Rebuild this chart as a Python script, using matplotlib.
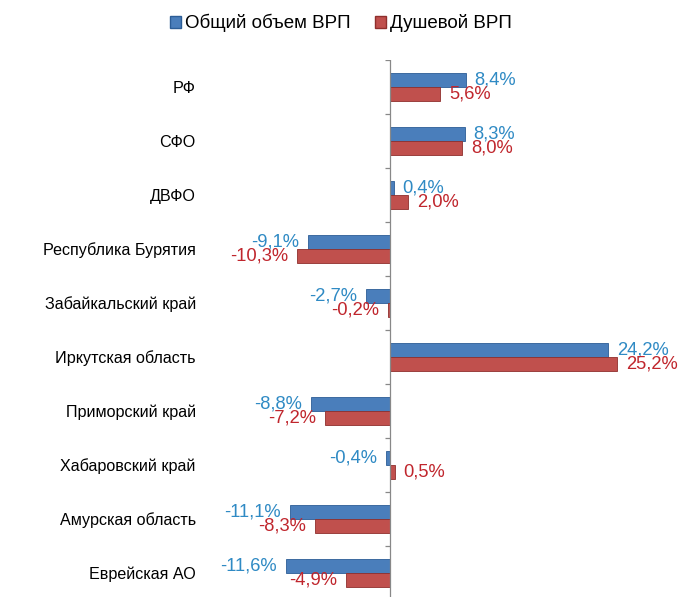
"""Horizontal bar chart: GRP growth by region, total vs per capita."""
import numpy as np
from matplotlib import pyplot as plt
from matplotlib.patches import Patch

plt.rcParams['font.family'] = ['Liberation Sans', 'DejaVu Sans']

regions = ["РФ", "СФО", "ДВФО", "Республика Бурятия", "Забайкальский край",
           "Иркутская область", "Приморский край", "Хабаровский край",
           "Амурская область", "Еврейская АО"]
total_grp = [8.4, 8.3, 0.4, -9.1, -2.7, 24.2, -8.8, -0.4, -11.1, -11.6]
per_capita_grp = [5.6, 8.0, 2.0, -10.3, -0.2, 25.2, -7.2, 0.5, -8.3, -4.9]
series_names = ["Общий объем ВРП", "Душевой ВРП"]

bar_blue = "#4a7ebb"
bar_red = "#c0504d"
text_blue = "#2f8ac4"
text_red = "#c0262d"

W, H = 682, 597
fig = plt.figure(figsize=(W / 100, H / 100), dpi=100)
# axes: left at 200px, top at 60px, one category = 54px
ax = fig.add_axes([200 / W, (H - 600) / H, (W - 200) / W, 540 / H])

y = np.arange(len(regions))
h = 0.26
b1 = ax.barh(y - h / 2, total_grp, height=h, color=bar_blue, edgecolor="#2c5d96", linewidth=0.6)
b2 = ax.barh(y + h / 2, per_capita_grp, height=h, color=bar_red, edgecolor="#8f2f2d", linewidth=0.6)

fmt = lambda v: f"{v:.1f}%".replace(".", ",")
ax.bar_label(b1, labels=[fmt(v) for v in total_grp], padding=6.5, color=text_blue, fontsize=13.2)
ax.bar_label(b2, labels=[fmt(v) for v in per_capita_grp], padding=6.5, color=text_red, fontsize=13.2)

ax.set_xlim((200 - 390) / 9, (W - 390) / 9)
ax.set_ylim(len(regions) - 0.5, -0.5)

ax.set_yticks(y)
ax.set_yticklabels(regions, fontsize=11.6)
ax.tick_params(axis="y", length=0, pad=3)
ax.set_xticks([])
for s in ax.spines.values():
    s.set_visible(False)

# zero axis with small ticks between categories
ax.axvline(0, color="#888888", linewidth=0.9)
ax.hlines(np.arange(len(regions) + 1) - 0.5, -0.6, 0, color="#888888", linewidth=0.9)

handles = [Patch(facecolor=bar_blue, edgecolor="#2c5d96"),
           Patch(facecolor=bar_red, edgecolor="#8f2f2d")]
fig.legend(handles, series_names, loc="upper center", bbox_to_anchor=(0.5, 1.005),
           ncol=2, frameon=False, fontsize=13.5, handlelength=0.6, handleheight=0.6,
           handletextpad=0.2, columnspacing=1.3)

fig.savefig("out.png", dpi=100)
